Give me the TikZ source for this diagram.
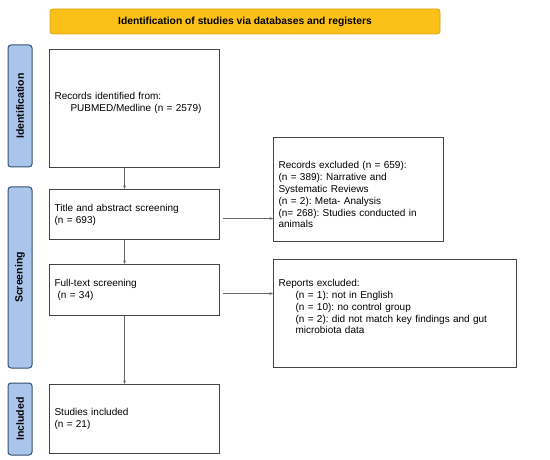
\documentclass[tikz,border=0pt]{standalone}
\usepackage{fontspec}
\setmainfont{Liberation Sans}
\usetikzlibrary{arrows.meta,calc}
\frenchspacing
\definecolor{hdrfill}{HTML}{FBC118}
\definecolor{hdrline}{HTML}{D9A21A}
\definecolor{sidefill}{HTML}{A9C5EC}
\definecolor{sideline}{HTML}{34506F}
\definecolor{boxline}{HTML}{444444}
\definecolor{arrline}{HTML}{666666}
\tikzset{
  x=1pt, y=-1pt,
  hdr/.style={draw=hdrline, fill=hdrfill, rounded corners=3pt, line width=0.8pt,
    minimum width=390pt, minimum height=25pt, inner sep=0pt,
    font=\fontsize{10.3}{12}\selectfont\bfseries},
  side/.style={draw=sideline, fill=sidefill, rounded corners=3pt, line width=1pt,
    minimum width=24pt, inner sep=0pt},
  sidetext/.style={rotate=90, font=\fontsize{10.5}{12}\selectfont\bfseries},
  box/.style={draw=boxline, line width=1.1pt, inner xsep=5pt, inner ysep=2pt,
    align=left, font=\fontsize{10}{11.8}\selectfont},
  arr/.style={draw=arrline, line width=0.6pt, -{Stealth[length=3.5pt,width=2.8pt]}}
}
\begin{document}
\begin{tikzpicture}
\useasboundingbox (0,0) rectangle (550,460);
% header
\node[hdr] (hdr) at (245,21.5) {Identification of studies via databases and registers};
% side labels
\node[side, minimum height=122pt] (sid) at (20,106) {};
\node[sidetext] (tid) at (sid.center) {Identification};
\node[side, minimum height=181pt] (sscr) at (20,277.5) {};
\node[sidetext] (tscr) at (sscr.center) {Screening};
\node[side, minimum height=72pt] (sinc) at (20,419) {};
\node[sidetext] (tinc) at (sinc.center) {Included};
% main boxes
\node[box, anchor=north west, text width=160pt, minimum height=118pt] (b1) at (49,49)
  {Records identified from:\\\hspace*{16pt}PUBMED/Medline (n = 2579)\\[2pt]\mbox{}};
\node[box, anchor=north west, text width=160pt, minimum height=50pt] (b2) at (49,189)
  {Title and abstract screening\\(n = 693)};
\node[box, anchor=north west, text width=160pt, minimum height=51pt] (b3) at (49,264)
  {Full-text screening\\\hspace*{3pt}(n = 34)};
\node[box, anchor=north west, text width=160pt, minimum height=69pt] (b4) at (49,384)
  {Studies included\\(n = 21)};
% exclusion boxes
\node[box, anchor=north west, text width=160pt, minimum height=104pt] (e1) at (273,137)
  {\mbox{}\\[6pt]Records excluded (n = 659):\\(n = 389): Narrative and\\Systematic Reviews\\(n = 2): Meta- Analysis\\(n= 268): Studies conducted in\\animals};
\node[box, anchor=north west, text width=233pt, minimum height=108pt] (e2) at (273,259)
  {Reports excluded:\\
   \hspace*{17pt}(n = 1): not in English\\
   \hspace*{17pt}(n = 10): no control group\\
   \hspace*{17pt}(n = 2): did not match key findings and gut\\
   \hspace*{17pt}microbiota data\\[2pt]\mbox{}};
% connectors
\draw[arr] ([xshift=-10pt]b1.south) -- ([xshift=-10pt]b2.north);
\draw[arr] ([xshift=-10pt]b2.south) -- ([xshift=-10pt]b3.north);
\draw[arr] ([xshift=-10pt]b3.south) -- ([xshift=-10pt]b4.north);
\draw[arr, shorten <=3pt] ([yshift=-4pt]b2.east) -- ([yshift=-4pt]b2.east -| e1.west);
\draw[arr, shorten <=3pt] ([yshift=-3.5pt]b3.east) -- ([yshift=-3.5pt]b3.east -| e2.west);
\end{tikzpicture}
\end{document}
